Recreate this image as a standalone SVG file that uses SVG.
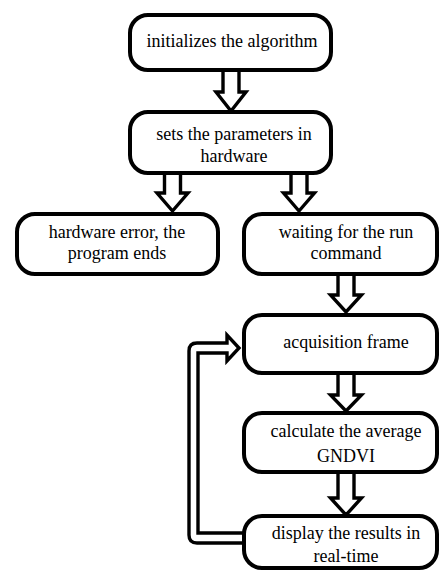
<svg xmlns="http://www.w3.org/2000/svg" width="439" height="571" viewBox="0 0 439 571">
<style>
.box{fill:#fff;stroke:#000;stroke-width:4}
.arr{fill:#fff;stroke:#000;stroke-width:3.4;stroke-linejoin:miter}
text{font-family:"Liberation Serif","Times New Roman",serif;font-size:18px;fill:#000;text-anchor:middle}
</style>
<rect width="439" height="571" fill="#fff"/>
<g id="connectors">
<path class="arr" d="M223,70 V92 H216 L231,111 L246,92 H239 V70"/>
<path class="arr" d="M164.5,173 V193 H157 L172.5,211 L188,193 H180.5 V173"/>
<path class="arr" d="M291,173 V193 H283.5 L299,211 L314.5,193 H307 V173"/>
<path class="arr" d="M338,274 V295 H330.5 L346,312 L361.5,295 H354 V274"/>
<path class="arr" d="M338,373 V395 H330.5 L346,411 L361.5,395 H354 V373"/>
<path class="arr" d="M338,472 V498 H330.5 L346,515 L361.5,498 H354 V472"/>
<path class="arr" d="M243,533 H198 V353 H227 V361 L239,348 L227,335 V343 H197 Q189,343 189,351 V535 Q189,543 197,543 H243" stroke-linejoin="round"/>
</g>
<g id="n1"><rect class="box" x="130" y="15" width="201" height="55" rx="18"/><text x="232" y="47">initializes the algorithm</text></g>
<g id="n2"><rect class="box" x="130" y="112" width="201" height="61" rx="18"/><text x="234" y="140">sets the parameters in</text><text x="234" y="162">hardware</text></g>
<g id="n3"><rect class="box" x="17" y="214" width="201" height="60" rx="18"/><text x="117" y="238">hardware error, the</text><text x="117" y="259">program ends</text></g>
<g id="n4"><rect class="box" x="244" y="214" width="193" height="60" rx="18"/><text x="346" y="238">waiting for the run</text><text x="346" y="259">command</text></g>
<g id="n5"><rect class="box" x="244" y="315" width="193" height="58" rx="18"/><text x="346" y="348">acquisition frame</text></g>
<g id="n6"><rect class="box" x="244" y="413" width="193" height="59" rx="18"/><text x="346" y="437">calculate the average</text><text x="346" y="462">GNDVI</text></g>
<g id="n7"><rect class="box" x="244" y="516" width="193" height="52" rx="18"/><text x="346" y="539">display the results in</text><text x="346" y="562">real-time</text></g>
</svg>
